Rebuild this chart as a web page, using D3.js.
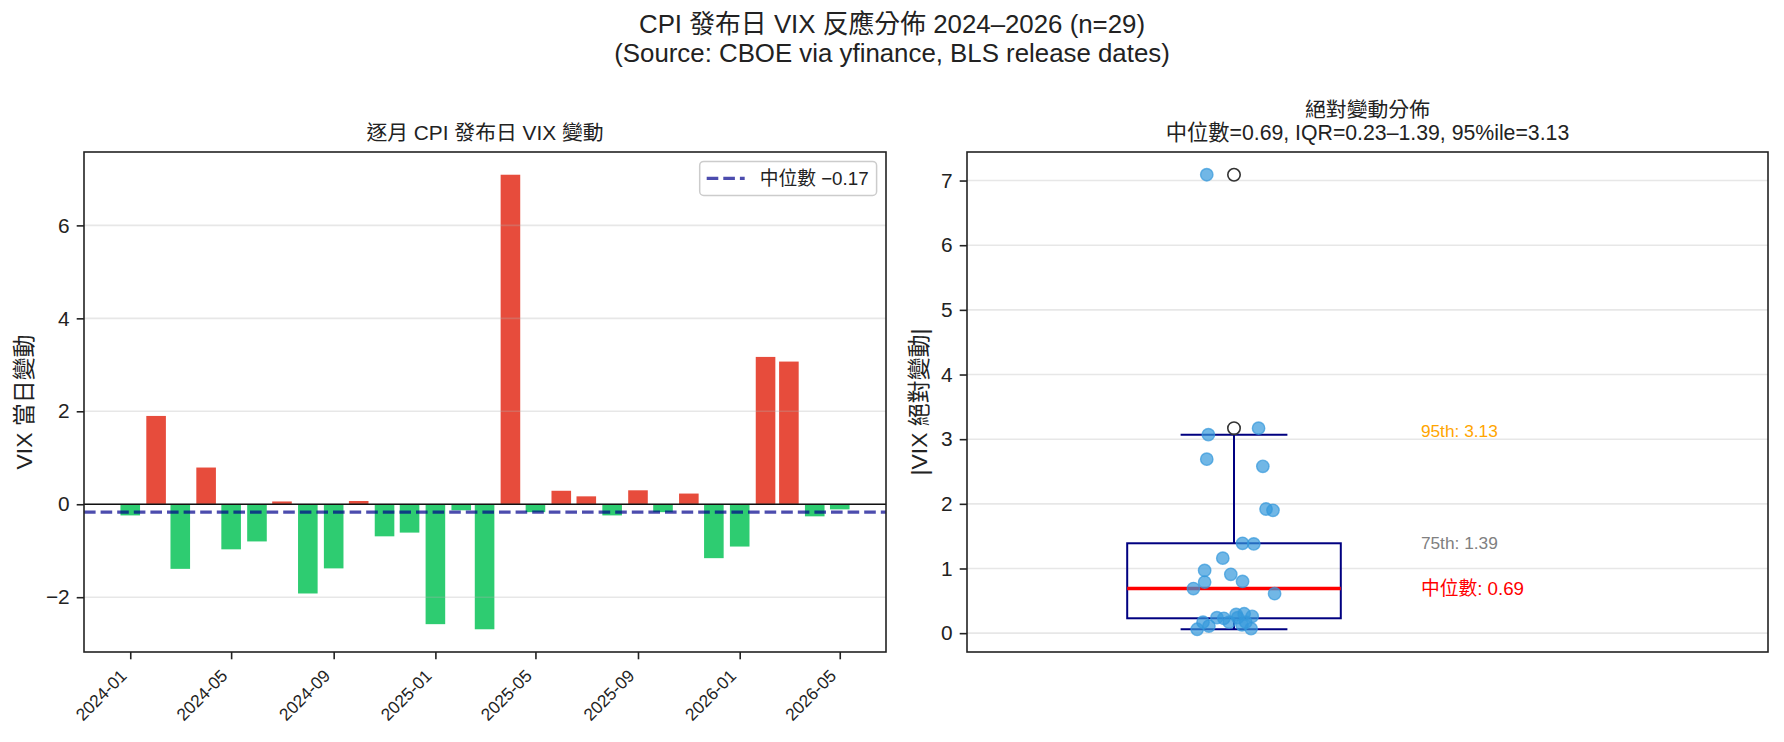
<!DOCTYPE html>
<html>
<head>
<meta charset="utf-8">
<title>CPI VIX</title>
<script src="https://cdn.jsdelivr.net/npm/d3@7"></script>
<style>
  body { margin: 0; background: #fff; }
  svg text { font-family: "Liberation Sans", "Noto Sans CJK TC", sans-serif; fill: #222; }
</style>
</head>
<body>
<svg id="mainsvg" width="1784" height="742"></svg>
<script>
// data
const months = ["2024-01","2024-02","2024-03","2024-04","2024-05","2024-06","2024-07","2024-08","2024-09","2024-10","2024-11","2024-12",
                "2025-01","2025-02","2025-03","2025-04","2025-05","2025-06","2025-07","2025-08","2025-09","2025-10","2025-11","2025-12",
                "2026-01","2026-02","2026-03","2026-04","2026-05"];
const vixChange = [-0.24, 1.90, -1.39, 0.79, -0.97, -0.80, 0.06, -1.92, -1.38, 0.07, -0.69, -0.61,
                   -2.58, -0.13, -2.69, 7.09, -0.17, 0.29, 0.17, -0.24, 0.30, -0.17, 0.23, -1.16,
                   -0.91, 3.17, 3.07, -0.26, -0.11];
// horizontal jitter of each point in the strip plot (box-plot x units)
const jitterX = [-0.032, 0.073, 0.016, -0.055, -0.055, 0.016, -0.069, 0.060, 0.037, 0.032, -0.076, 0.076,
                 0.054, 0.015, -0.051, -0.051, -0.058, 0.004, -0.009, 0.007, 0.019, 0.022, -0.019, -0.021,
                 -0.006, 0.046, -0.048, 0.034, -0.047];
const xTickLabels = ["2024-01","2024-05","2024-09","2025-01","2025-05","2025-09","2026-01","2026-05"];
const leftYTicks = [-2, 0, 2, 4, 6];
const rightYTicks = [0, 1, 2, 3, 4, 5, 6, 7];

const svg = d3.select('#mainsvg');
const pt = 150 / 72;   // figure was ~150 dpi
const fs = {sup: 12.4 * pt, title: 10 * pt, tick: 10 * pt, small: 8.3 * pt, label: 11 * pt, legend: 9 * pt};
const RED = '#e74c3c', GREEN = '#2ecc71', BLUE = '#3498db';
const gridColor = '#b0b0b0';

const L = {x0: 84, x1: 886, y0: 152, y1: 652};
const R = {x0: 967, x1: 1768, y0: 152, y1: 652};

// suptitle
svg.append('text').attr('x', 892).attr('y', 33).attr('text-anchor', 'middle')
  .style('font-size', fs.sup + 'px').text('CPI 發布日 VIX 反應分佈 2024–2026 (n=29)');
svg.append('text').attr('x', 892).attr('y', 62).attr('text-anchor', 'middle')
  .style('font-size', fs.sup + 'px').text('(Source: CBOE via yfinance, BLS release dates)');

// ---------- left: monthly bars ----------
const parse = d3.utcParse('%Y-%m');
const dates = months.map(parse);
const barDays = 23.5;
const DAY = 864e5;
const first = dates[0].getTime(), last = dates[dates.length - 1].getTime();
const spanX = (last - first) + barDays * DAY;
const xScale = d3.scaleUtc()
  .domain([new Date(first - barDays * DAY / 2 - 0.05 * spanX), new Date(last + barDays * DAY / 2 + 0.05 * spanX)])
  .range([L.x0, L.x1]);
const vmin = d3.min(vixChange), vmax = d3.max(vixChange);
const yPad = 0.05 * (vmax - vmin);
const yScale = d3.scaleLinear().domain([vmin - yPad, vmax + yPad]).range([L.y1, L.y0]);

const gL = svg.append('g');
const bw = xScale(new Date(first + barDays * DAY)) - xScale(new Date(first));
gL.selectAll('rect.bar').data(vixChange).enter().append('rect')
  .attr('class', 'bar')
  .attr('x', (d, i) => xScale(dates[i]) - bw / 2)
  .attr('width', bw)
  .attr('y', d => yScale(Math.max(0, d)))
  .attr('height', d => Math.abs(yScale(d) - yScale(0)))
  .attr('fill', d => d >= 0 ? RED : GREEN);

// grid (drawn over bars, like matplotlib)
gL.selectAll('line.grid').data(leftYTicks).enter().append('line')
  .attr('x1', L.x0).attr('x2', L.x1)
  .attr('y1', d => yScale(d)).attr('y2', d => yScale(d))
  .attr('stroke', gridColor).attr('stroke-opacity', 0.3).attr('stroke-width', 1.6);

// zero line
gL.append('line').attr('x1', L.x0).attr('x2', L.x1)
  .attr('y1', yScale(0)).attr('y2', yScale(0))
  .attr('stroke', '#111').attr('stroke-width', 1.7);

// median line
const medRaw = d3.median(vixChange);
gL.append('line').attr('x1', L.x0).attr('x2', L.x1)
  .attr('y1', yScale(medRaw)).attr('y2', yScale(medRaw))
  .attr('stroke', '#00008b').attr('stroke-opacity', 0.7).attr('stroke-width', 3.1)
  .attr('stroke-dasharray', '11.6,5');

// axes
const yAxisL = d3.axisLeft(yScale).tickValues(leftYTicks).tickSize(7.3).tickPadding(7).tickFormat(d3.format('d'));
const yAxL = gL.append('g').attr('transform', `translate(${L.x0},0)`).call(yAxisL);
const xAxisL = d3.axisBottom(xScale).tickValues(xTickLabels.map(parse)).tickSize(7.3).tickFormat(d3.utcFormat('%Y-%m'));
const xAxL = gL.append('g').attr('transform', `translate(0,${L.y1})`).call(xAxisL);
xAxL.selectAll('text')
  .attr('y', null).attr('dy', null).attr('x', null)
  .attr('text-anchor', 'end')
  .attr('transform', 'translate(-3,25) rotate(-45)')
  .style('font-size', fs.small + 'px');

gL.append('rect').attr('x', L.x0).attr('y', L.y0).attr('width', L.x1 - L.x0).attr('height', L.y1 - L.y0)
  .attr('fill', 'none').attr('stroke', '#222').attr('stroke-width', 1.6);

gL.append('text').attr('x', (L.x0 + L.x1) / 2).attr('y', 140).attr('text-anchor', 'middle')
  .style('font-size', fs.title + 'px').text('逐月 CPI 發布日 VIX 變動');
gL.append('text').attr('transform', `translate(24,${(L.y0 + L.y1) / 2}) rotate(-90)`)
  .attr('text-anchor', 'middle').attr('dominant-baseline', 'central')
  .style('font-size', fs.label + 'px').text('VIX 當日變動');

// legend
const leg = gL.append('g');
const legText = leg.append('text').attr('dominant-baseline', 'central').style('font-size', fs.legend + 'px')
  .text('中位數 ' + d3.format('.2f')(medRaw));
const tw = legText.node().getComputedTextLength();
const legW = 7 + 38 + 15 + tw + 8, legH = 34;
const legX = L.x1 - 9.4 - legW, legY = L.y0 + 9.4;
leg.insert('rect', 'text').attr('x', legX).attr('y', legY).attr('width', legW).attr('height', legH)
  .attr('rx', 4).attr('fill', '#fff').attr('fill-opacity', 0.8).attr('stroke', '#cccccc').attr('stroke-width', 1.5);
leg.append('line').attr('x1', legX + 7).attr('x2', legX + 45).attr('y1', legY + legH / 2).attr('y2', legY + legH / 2)
  .attr('stroke', '#00008b').attr('stroke-opacity', 0.7).attr('stroke-width', 3.1).attr('stroke-dasharray', '11.6,5');
legText.attr('x', legX + 60).attr('y', legY + legH / 2);

// ---------- right: box plot of |change| ----------
const absVals = vixChange.map(Math.abs);
const sorted = absVals.slice().sort(d3.ascending);
const q1 = d3.quantile(sorted, 0.25), med = d3.quantile(sorted, 0.5), q3 = d3.quantile(sorted, 0.75);
const p95 = d3.quantile(sorted, 0.95);
const iqr = q3 - q1;
const hiLim = q3 + 1.5 * iqr, loLim = q1 - 1.5 * iqr;
const whiskHi = d3.max(sorted.filter(v => v <= hiLim));
const whiskLo = d3.min(sorted.filter(v => v >= loLim));
const fliers = sorted.filter(v => v > hiLim || v < loLim);

const amin = d3.min(absVals), amax = d3.max(absVals);
const aPad = 0.05 * (amax - amin);
const y2 = d3.scaleLinear().domain([amin - aPad, amax + aPad]).range([R.y1, R.y0]);
const x2 = d3.scaleLinear().domain([0.5, 2.0]).range([R.x0, R.x1]);
const f2 = d3.format('.2f');

const gR = svg.append('g');
gR.selectAll('line.grid').data(rightYTicks).enter().append('line')
  .attr('x1', R.x0).attr('x2', R.x1)
  .attr('y1', d => y2(d)).attr('y2', d => y2(d))
  .attr('stroke', gridColor).attr('stroke-opacity', 0.3).attr('stroke-width', 1.6);

const boxHalf = 0.2, capHalf = 0.1;
const navy = '#000080';
gR.append('rect').attr('x', x2(1 - boxHalf)).attr('width', x2(1 + boxHalf) - x2(1 - boxHalf))
  .attr('y', y2(q3)).attr('height', y2(q1) - y2(q3))
  .attr('fill', 'none').attr('stroke', navy).attr('stroke-width', 2);
gR.append('line').attr('x1', x2(1)).attr('x2', x2(1)).attr('y1', y2(q3)).attr('y2', y2(whiskHi))
  .attr('stroke', navy).attr('stroke-width', 2);
gR.append('line').attr('x1', x2(1)).attr('x2', x2(1)).attr('y1', y2(q1)).attr('y2', y2(whiskLo))
  .attr('stroke', navy).attr('stroke-width', 2);
[whiskHi, whiskLo].forEach(v => {
  gR.append('line').attr('x1', x2(1 - capHalf)).attr('x2', x2(1 + capHalf)).attr('y1', y2(v)).attr('y2', y2(v))
    .attr('stroke', navy).attr('stroke-width', 2);
});
gR.append('line').attr('x1', x2(1 - boxHalf)).attr('x2', x2(1 + boxHalf)).attr('y1', y2(med)).attr('y2', y2(med))
  .attr('stroke', '#ff0000').attr('stroke-width', 3.5);
gR.selectAll('circle.flier').data(fliers).enter().append('circle')
  .attr('cx', x2(1)).attr('cy', d => y2(d)).attr('r', 6.2)
  .attr('fill', 'none').attr('stroke', '#333').attr('stroke-width', 1.6);

gR.selectAll('circle.pt').data(absVals).enter().append('circle')
  .attr('cx', (d, i) => x2(1 + jitterX[i])).attr('cy', d => y2(d)).attr('r', 6.2)
  .attr('fill', BLUE).attr('fill-opacity', 0.7)
  .attr('stroke', BLUE).attr('stroke-opacity', 0.7).attr('stroke-width', 1.4);

// annotations
const annX = x2(1.35);
gR.append('text').attr('x', annX).attr('y', y2(p95)).attr('dominant-baseline', 'central')
  .style('font-size', fs.small + 'px').style('fill', '#ffa500').text('95th: ' + f2(p95));
gR.append('text').attr('x', annX).attr('y', y2(q3)).attr('dominant-baseline', 'central')
  .style('font-size', fs.small + 'px').style('fill', '#808080').text('75th: ' + f2(q3));
gR.append('text').attr('x', annX).attr('y', y2(med)).attr('dominant-baseline', 'central')
  .style('font-size', fs.legend + 'px').style('fill', '#ff0000').text('中位數: ' + f2(med));

const yAxisR = d3.axisLeft(y2).tickValues(rightYTicks).tickSize(7.3).tickPadding(7).tickFormat(d3.format('d'));
gR.append('g').attr('transform', `translate(${R.x0},0)`).call(yAxisR);
gR.append('rect').attr('x', R.x0).attr('y', R.y0).attr('width', R.x1 - R.x0).attr('height', R.y1 - R.y0)
  .attr('fill', 'none').attr('stroke', '#222').attr('stroke-width', 1.6);

gR.append('text').attr('x', (R.x0 + R.x1) / 2).attr('y', 117).attr('text-anchor', 'middle')
  .style('font-size', fs.title + 'px').text('絕對變動分佈');
gR.append('text').attr('x', (R.x0 + R.x1) / 2).attr('y', 140).attr('text-anchor', 'middle')
  .style('font-size', (fs.title * 1.02) + 'px')
  .text(`中位數=${f2(med)}, IQR=${f2(q1)}–${f2(q3)}, 95%ile=${f2(p95)}`);
gR.append('text').attr('transform', `translate(919,${(R.y0 + R.y1) / 2}) rotate(-90)`)
  .attr('text-anchor', 'middle').attr('dominant-baseline', 'central')
  .style('font-size', fs.label + 'px').text('|VIX 絕對變動|');

// common axis styling
svg.selectAll('.domain').remove();
svg.selectAll('.tick line').attr('stroke', '#222').attr('stroke-width', 1.6);
svg.selectAll('.tick text').style('fill', '#222').attr('font-family', null);
yAxL.selectAll('text').style('font-size', fs.tick + 'px');
gR.selectAll('.tick text').style('font-size', fs.tick + 'px');
</script>
</body>
</html>
